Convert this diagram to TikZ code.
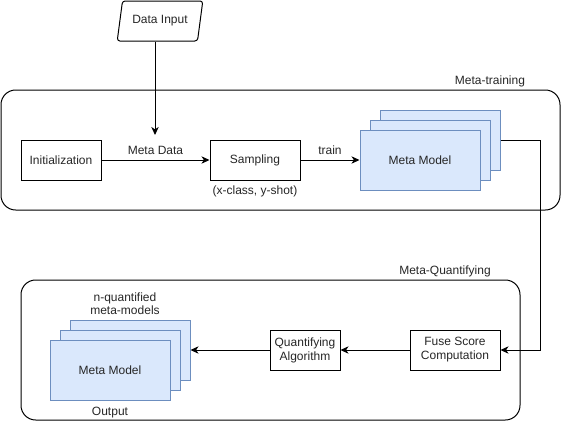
\documentclass[tikz,border=0pt]{standalone}
\usepackage{fontspec}
\setmainfont{Liberation Sans}
\usetikzlibrary{positioning,arrows.meta,shapes.geometric}
\definecolor{modelfill}{HTML}{DAE8FC}
\definecolor{modelline}{HTML}{6C8EBF}

\begin{document}
\begin{tikzpicture}
[x=0.75pt,y=-0.75pt,line width=0.75pt,
 every node/.style={text=black!85,font=\fontsize{9}{10.5}\selectfont},
 box/.style={draw,align=center,minimum height=30pt,inner sep=1pt},
 model/.style={draw=modelline,fill=modelfill,minimum width=90pt,minimum height=45pt},
 frame/.style={draw,rounded corners=11pt},
 flow/.style={-{Stealth[length=6pt,width=5.5pt,inset=1.8pt]}}]
\useasboundingbox (0,0) rectangle (562,422);
% frames
\draw[frame] (1,90) rectangle (560,210);
\node (trainlbl) at (490,81) {Meta-training};
\draw[frame] (21,280) rectangle (520,420);
\node (quantlbl) at (445,271) {Meta-Quantifying};
% meta-training
\node[draw,trapezium,trapezium left angle=77,trapezium right angle=103,
  trapezium stretches=true,minimum width=64.5pt,minimum height=30pt,
  rounded corners=2pt] (input) at (160,21) {Data Input};
\node[box,minimum width=60pt] (init) at (61,160) {Initialization};
\node[box,minimum width=67.5pt] (samp) at (255,160) {Sampling};
\node[below=0pt of samp] (shot) {(x-class, y-shot)};
\node[model] (mmback) at (440,140) {};
\node[model] (mmmid) at (430,150) {};
\node[model] (mm) at (420,160) {Meta Model};
\coordinate (md) at (155,135);
\draw[flow] (input.south -| md) -- (md);
\path[flow] (init) edge node[above]{Meta Data} (samp);
\path[flow] (samp) edge node[above]{train} (mm);
% meta-quantifying
\node[box,minimum width=67.5pt] (fuse) at (455,350) {Fuse Score\\Computation};
\node[box,minimum width=52.5pt] (qalg) at (305,350) {Quantifying\\Algorithm};
\node[model] (outback) at (130,350) {};
\node[model] (outmid) at (120,360) {};
\node[model] (out) at (110,370) {Meta Model};
\node[above=0pt of outback,xshift=-3.75pt,align=center,font=\fontsize{9}{9.8}\selectfont] (nq) {n-quantified\\meta-models};
\node[below=0pt of out,yshift=-1pt] (outlbl) {Output};
\coordinate (turn) at (540,140);
\draw[flow] (mmback.east) -- (turn) |- (fuse.east);
\path[flow] (fuse) edge (qalg);
\path[flow] (qalg) edge (outback);
\end{tikzpicture}
\end{document}
